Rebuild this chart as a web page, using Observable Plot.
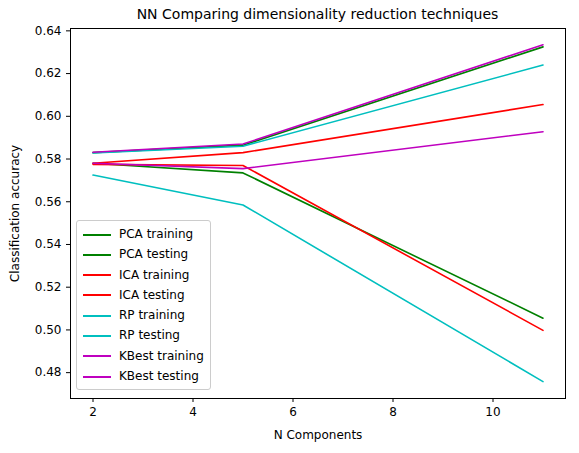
<!DOCTYPE html>
<html><head><meta charset="utf-8">
<script src="https://cdn.jsdelivr.net/npm/d3@7"></script>
<script src="https://cdn.jsdelivr.net/npm/@observablehq/plot@0.6"></script>
<style>
body{margin:0;background:#fff;font-family:"DejaVu Sans",sans-serif;}
#wrap{position:relative;width:579px;height:453px;}
#title{position:absolute;left:70px;width:495px;top:6px;text-align:center;font-size:14px;}
#legend{position:absolute;left:76px;top:220px;border:1px solid #ccc;border-radius:3px;background:#fff;padding:3px 6px;font-size:12px;line-height:20.3px;}
#legend span.sw{display:inline-block;width:28px;height:0;border-top:2px solid;vertical-align:middle;margin-right:8px;}
</style></head><body>
<div id="wrap"><div id="title">NN Comparing dimensionality reduction techniques</div><div id="chart"></div><div id="legend"></div></div>
<script>
const xs = [2, 5, 11];
const names = ["PCA training","PCA testing","ICA training","ICA testing","RP training","RP testing","KBest training","KBest testing"];
const colors = ["green","green","red","red","#00bfbf","#00bfbf","#bf00bf","#bf00bf"];
const pcaTrain = [0.583, 0.5865, 0.6325];
const pcaTest = [0.578, 0.5735, 0.5055];
const icaTrain = [0.578, 0.583, 0.6055];
const icaTest = [0.5775, 0.577, 0.4998];
const rpTrain = [0.5828, 0.586, 0.624];
const rpTest = [0.5725, 0.5585, 0.4758];
const kbTrain = [0.5832, 0.587, 0.6335];
const kbTest = [0.578, 0.5755, 0.5928];
const series = [pcaTrain,pcaTest,icaTrain,icaTest,rpTrain,rpTest,kbTrain,kbTest];
const data = series.flatMap((s,i)=>s.map((v,j)=>({x:xs[j],y:v,name:names[i]})));
const chart = Plot.plot({
  width:579,height:453,marginLeft:70,marginRight:14,marginTop:28,marginBottom:55,
  style:{fontFamily:"DejaVu Sans",fontSize:"12px",color:"#000"},
  x:{domain:[1.55,11.45],ticks:[2,4,6,8,10],tickSize:4,label:"N Components",labelAnchor:"center",labelArrow:"none",labelOffset:40},
  y:{domain:[0.4679,0.6411],ticks:d3.range(0.48,0.6401,0.02),tickFormat:d3.format(".2f"),tickSize:4,label:"Classification accuracy",labelAnchor:"center",labelArrow:"none",labelOffset:60},
  color:{domain:names,range:colors},
  marks:[
    Plot.line(data,{x:"x",y:"y",z:"name",stroke:"name",strokeWidth:1.6}),
    Plot.frame({stroke:"#000"})
  ]
});
document.getElementById("chart").appendChild(chart);
document.getElementById("legend").innerHTML = names.map((n,i)=>`<div><span class="sw" style="border-color:${colors[i]}"></span>${n}</div>`).join("");
</script></body></html>
